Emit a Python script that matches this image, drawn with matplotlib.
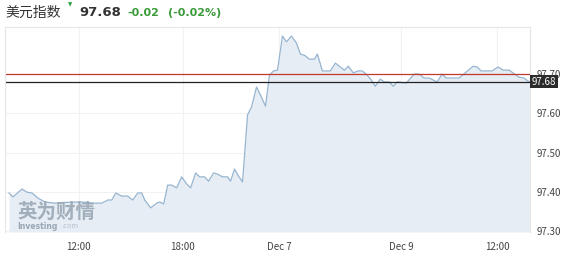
import matplotlib
matplotlib.use("Agg")
import matplotlib.pyplot as plt

# positions along the (non-uniform) time axis, in slot units
slots = [4, 8, 17, 22, 27, 33, 40, 50, 60, 77, 87, 97, 103, 107, 111, 117, 123, 128, 133, 137,
         140, 146, 152, 155, 159, 163, 167, 172, 177, 182, 186, 191, 195, 200, 204, 209, 213, 218,
         223, 226, 230, 234, 238, 243, 247, 252, 257, 261, 265, 269, 273, 278, 282, 287, 292, 296,
         300, 305, 310, 313, 318, 326, 331, 336, 340, 344, 349, 354, 358, 363, 367, 371, 376, 380,
         385, 389, 393, 402, 410, 415, 420, 425, 433, 438, 442, 455, 462, 469, 473, 477, 488, 494,
         499, 505, 509, 515, 520, 524, 528]
prices = [97.397, 97.387, 97.407, 97.399, 97.397, 97.384, 97.374, 97.371, 97.373, 97.374, 97.371,
          97.371, 97.379, 97.379, 97.397, 97.389, 97.389, 97.379, 97.397, 97.397, 97.379, 97.359,
          97.371, 97.374, 97.369, 97.417, 97.417, 97.410, 97.438, 97.420, 97.410, 97.448, 97.438,
          97.438, 97.427, 97.448, 97.445, 97.438, 97.438, 97.427, 97.458, 97.440, 97.425, 97.596,
          97.616, 97.667, 97.641, 97.618, 97.697, 97.708, 97.710, 97.797, 97.782, 97.797, 97.779,
          97.751, 97.748, 97.738, 97.738, 97.751, 97.708, 97.708, 97.728, 97.718, 97.710, 97.720,
          97.703, 97.708, 97.708, 97.697, 97.685, 97.669, 97.687, 97.680, 97.680, 97.669, 97.680,
          97.677, 97.700, 97.700, 97.690, 97.690, 97.680, 97.700, 97.690, 97.690, 97.705, 97.720,
          97.718, 97.708, 97.708, 97.718, 97.710, 97.710, 97.703, 97.692, 97.690, 97.682, 97.680]

x_tick_pos = [74, 178, 275, 397, 493]
x_tick_labels = ["12:00", "18:00", "Dec 7", "Dec 9", "12:00"]
y_ticks = [97.30, 97.40, 97.50, 97.60, 97.70]
prev_close = 97.70
last_price = 97.68

plt.rcParams['font.family'] = ['Noto Sans CJK SC', 'DejaVu Sans']

fig = plt.figure(figsize=(5.71, 2.58), dpi=100)
ax = fig.add_axes([5/571, 1 - 232/258, 525/571, (232 - 27)/258])

ymin = 97.2975
ymax = 97.82
ax.set_xlim(0, 526)
ax.set_ylim(ymin, ymax)

ax.fill_between(slots, prices, ymin, color="#e6edf4", lw=0)
ax.plot(slots, prices, color="#97b5d0", lw=0.9)

ax.axhline(prev_close, color="#c0392b", lw=0.9)
ax.axhline(last_price, color="#222222", lw=0.9)

for xt in x_tick_pos:
    ax.axvline(xt, color="#f2f2f2", lw=0.8, zorder=0)
for yt in y_ticks:
    ax.axhline(yt, color="#f2f2f2", lw=0.8, zorder=0)

ax.set_xticks(x_tick_pos)
ax.set_xticklabels(x_tick_labels)
ax.yaxis.tick_right()
ax.set_yticks(y_ticks)
ax.set_yticklabels([f"{v:.2f}" for v in y_ticks])
ax.tick_params(axis="both", length=0, labelsize=7, colors="#444444")
ax.tick_params(axis="x", pad=7)
ax.tick_params(axis="y", pad=5)

for s in ["top", "left", "right"]:
    ax.spines[s].set_color("#e6e6e6")
    ax.spines[s].set_linewidth(0.8)
ax.spines["bottom"].set_visible(False)

# last price label box
ax.text(1.003, last_price, f"{last_price:.2f}", transform=ax.get_yaxis_transform(),
        ha="left", va="center", fontsize=7, color="white",
        bbox=dict(boxstyle="square,pad=0.15", fc="#2b2b2b", ec="none"), zorder=10)

# watermark
ax.text(12, 97.348, "英为财情", fontsize=14, fontweight="bold", color="#9aa7b5", alpha=0.9,
        ha="left", va="center")
ax.text(12, 97.312, "Investing", fontsize=5.5, fontweight="bold", color="#9aa7b5",
        ha="left", va="center", family="DejaVu Sans")
ax.text(56, 97.312, ".com", fontsize=5, color="#b5bfca", ha="left", va="center",
        family="DejaVu Sans")

# title
fig.text(5/571, 1 - 13/258, "美元指数", fontsize=10, color="#333333", ha="left", va="center")
fig.text(70/571, 1 - 5/258, "▼", fontsize=4, color="#2ea043", ha="center", va="center",
         family="DejaVu Sans")
fig.text(79/571, 1 - 13/258, f"{last_price:.2f}", fontsize=9.5, fontweight="bold",
         color="#333333", ha="left", va="center", family="DejaVu Sans")
fig.text(127/571, 1 - 13/258, "-0.02", fontsize=8, fontweight="bold", color="#3a9a3a",
         ha="left", va="center", family="DejaVu Sans")
fig.text(168/571, 1 - 13/258, "(-0.02%)", fontsize=8, fontweight="bold", color="#3a9a3a",
         ha="left", va="center", family="DejaVu Sans")

fig.savefig("out.png", dpi=100)
